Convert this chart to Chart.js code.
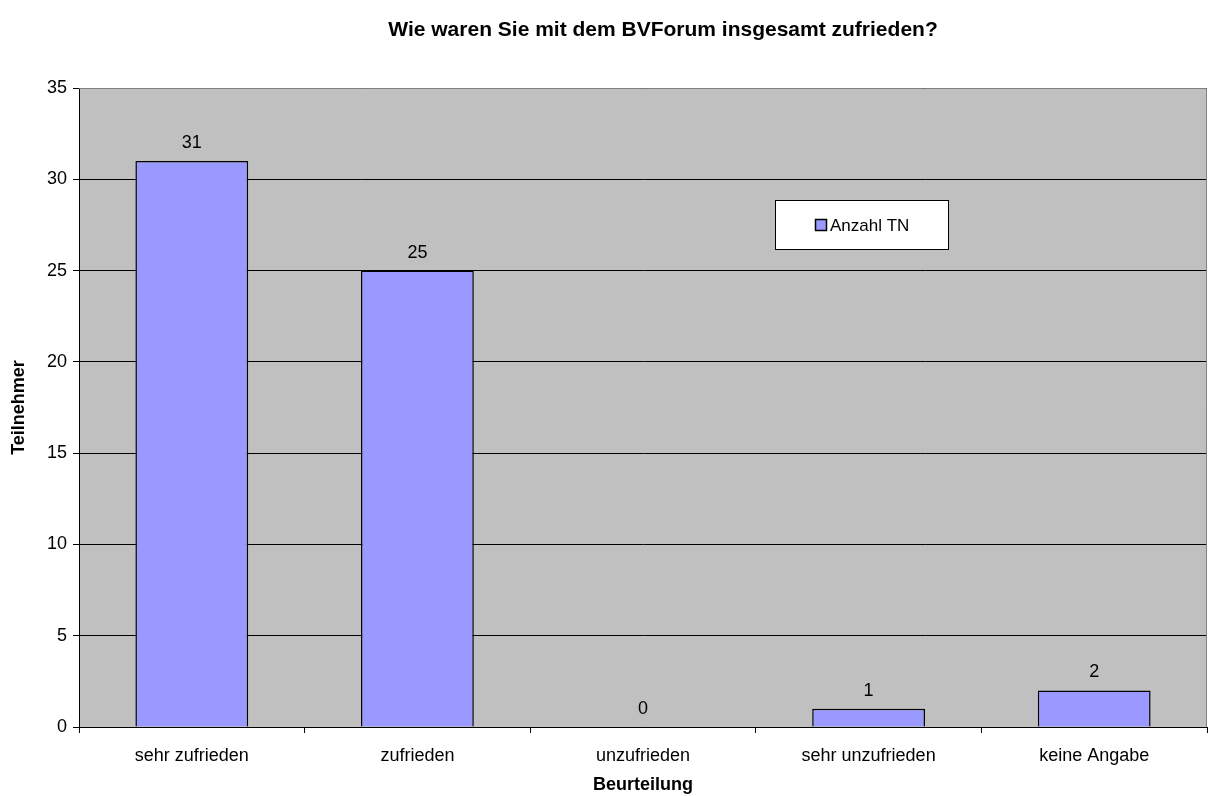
<!DOCTYPE html>
<html>
<head>
<meta charset="utf-8">
<script src="https://cdn.jsdelivr.net/npm/chart.js@4"></script>
<style>
  html, body { margin: 0; padding: 0; background: #fff; }
  #wrap { width: 1208px; height: 796px; }
</style>
</head>
<body>
<div id="wrap"><canvas id="chart" width="1208" height="796"></canvas></div>
<script>
// data
const categories = ['sehr zufrieden', 'zufrieden', 'unzufrieden', 'sehr unzufrieden', 'keine Angabe'];
const anzahlTN = [31, 25, 0, 1, 2];
const seriesName = 'Anzahl TN';
const chartTitle = 'Wie waren Sie mit dem BVForum insgesamt zufrieden?';
const xTitle = 'Beurteilung';
const yTitle = 'Teilnehmer';

const FONT = 'Arial, "Liberation Sans", sans-serif';

// grey plot background + grey top/right frame
const plotBg = {
  id: 'plotBg',
  beforeDraw(chart) {
    const a = chart.chartArea, c = chart.ctx;
    c.save();
    c.fillStyle = '#c0c0c0';
    c.fillRect(a.left, a.top, a.right - a.left, a.bottom - a.top);
    c.restore();
  },
  afterDraw(chart) {
    const a = chart.chartArea, c = chart.ctx;
    c.save();
    c.strokeStyle = '#808080';
    c.lineWidth = 1;
    c.beginPath();
    c.moveTo(a.left, a.top + 0.5);
    c.lineTo(a.right - 0.5, a.top + 0.5);
    c.lineTo(a.right - 0.5, a.bottom);
    c.stroke();
    c.restore();
  }
};

// chart title (sits a bit right of centre in the original)
const topTitle = {
  id: 'topTitle',
  afterDraw(chart) {
    const c = chart.ctx;
    c.save();
    c.font = 'bold 21px ' + FONT;
    c.fillStyle = '#000';
    c.textAlign = 'center';
    c.textBaseline = 'middle';
    c.fillText(chartTitle, 663, 30);
    c.restore();
  }
};

// value labels above bars
const valueLabels = {
  id: 'valueLabels',
  afterDatasetsDraw(chart) {
    const c = chart.ctx;
    c.save();
    c.font = '18px ' + FONT;
    c.fillStyle = '#000';
    c.textAlign = 'center';
    c.textBaseline = 'alphabetic';
    chart.getDatasetMeta(0).data.forEach((bar, i) => {
      c.fillText(String(anzahlTN[i]), bar.x, bar.y - 13);
    });
    c.restore();
  }
};

// legend box inside the plot
const boxLegend = {
  id: 'boxLegend',
  afterDraw(chart) {
    const c = chart.ctx;
    const x = 775, y = 200, w = 173, h = 49;
    c.save();
    c.fillStyle = '#fff';
    c.fillRect(x, y, w, h);
    c.strokeStyle = '#000';
    c.lineWidth = 1;
    c.strokeRect(x + 0.5, y + 0.5, w, h);
    const ds = chart.data.datasets[0];
    c.fillStyle = ds.backgroundColor;
    c.fillRect(816, 220, 10, 10);
    c.lineWidth = 1.5;
    c.strokeRect(815.5, 219.5, 11, 11);
    c.fillStyle = '#000';
    c.font = '17px ' + FONT;
    c.textBaseline = 'middle';
    c.textAlign = 'left';
    c.fillText(ds.label, 830, 226);
    c.restore();
  }
};

const ctx = document.getElementById('chart').getContext('2d');
const chart = new Chart(ctx, {
  type: 'bar',
  data: {
    labels: categories,
    datasets: [{
      label: seriesName,
      data: anzahlTN,
      backgroundColor: '#9999ff',
      borderColor: '#000',
      borderWidth: 1.5,
      barPercentage: 0.5,
      categoryPercentage: 1
    }]
  },
  plugins: [plotBg, valueLabels, boxLegend, topTitle],
  options: {
    responsive: false,
    animation: false,
    layout: { padding: { top: 88, right: 1, bottom: 0, left: 0 } },
    plugins: {
      legend: { display: false },
      tooltip: { enabled: false },
      title: { display: false }
    },
    scales: {
      x: {
        grid: { display: true, drawOnChartArea: false, color: '#000', tickLength: 6, offset: true },
        border: { display: true, color: '#000' },
        ticks: { color: '#000', font: { family: FONT, size: 18 }, padding: 12 },
        title: { display: true, text: xTitle, color: '#000', font: { family: FONT, size: 18, weight: 'bold' }, padding: { top: 0, bottom: 0 } },
        afterFit(s) { s.height = 69; }
      },
      y: {
        min: 0, max: 35,
        ticks: { stepSize: 5, color: '#000', font: { family: FONT, size: 18 }, padding: 6 },
        grid: { color: '#000', tickLength: 6 },
        border: { display: true, color: '#000' },
        title: { display: true, text: yTitle, color: '#000', font: { family: FONT, size: 18, weight: 'bold' }, padding: { top: 8, bottom: 0 } },
        afterFit(s) { s.width = 79; }
      }
    }
  }
});
</script>
</body>
</html>
